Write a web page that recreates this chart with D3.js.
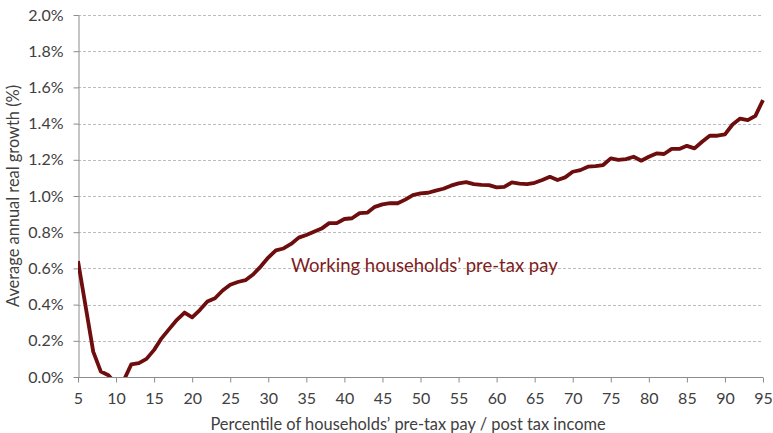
<!DOCTYPE html>
<meta charset="utf-8">
<style>
body { margin: 0; background: #fff; font-family: Lato, "Open Sans", sans-serif; }
.grid line { stroke: #bdbdbd; stroke-width: 1px; stroke-dasharray: 3,2; }
.axis path, .axis line { stroke: #8c8c8c; }
.axis text { font-size: 16px; fill: #404040; font-family: Lato, sans-serif; }
</style>
<body>
<script src="https://cdn.jsdelivr.net/npm/d3@7"></script>
<script>

var width = 773,
    height = 433,
    margin = {top: 15, right: 10, bottom: 56, left: 78};

// percentiles 5..95
var percentiles = d3.range(5, 96);
var growth = [
  0.64, 0.39, 0.14, 0.03, 0.01, -0.04, -0.02, 0.07, 0.077, 0.10,
  0.15, 0.215, 0.266, 0.316, 0.356, 0.33, 0.37, 0.417, 0.435, 0.478,
  0.51, 0.525, 0.535, 0.566, 0.61, 0.66, 0.70, 0.71, 0.735, 0.77,
  0.785, 0.803, 0.82, 0.85, 0.85, 0.873, 0.877, 0.905, 0.908, 0.94,
  0.954, 0.96, 0.96, 0.98, 1.005, 1.015, 1.018, 1.03, 1.04, 1.057,
  1.07, 1.077, 1.066, 1.062, 1.06, 1.048, 1.05, 1.075, 1.068, 1.066,
  1.073, 1.088, 1.106, 1.088, 1.103, 1.134, 1.143, 1.162, 1.165, 1.171,
  1.208, 1.199, 1.204, 1.217, 1.195, 1.217, 1.235, 1.232, 1.26, 1.26,
  1.277, 1.263, 1.30, 1.333, 1.333, 1.34, 1.395, 1.428, 1.419, 1.443,
  1.53
];
var xTicks = d3.range(5, 96, 5);
var yTicks = d3.range(0, 2.01, 0.2);
var seriesLabel = "Working households\u2019 pre-tax pay";

var svg = d3.select("body").append("svg")
    .attr("width", width)
    .attr("height", height);

var x = d3.scaleLinear().domain([5, 95]).range([margin.left, width - margin.right]);
var y = d3.scaleLinear().domain([0, 2]).range([height - margin.bottom, margin.top]);

svg.append("defs").append("clipPath").attr("id", "plot")
  .append("rect")
    .attr("x", margin.left)
    .attr("y", 0)
    .attr("width", width - margin.left)
    .attr("height", y(0));

svg.append("g").attr("class", "grid")
  .selectAll("line")
  .data(yTicks.slice(1))
  .enter().append("line")
    .attr("x1", margin.left)
    .attr("x2", width - margin.right)
    .attr("y1", function(d){ return Math.round(y(d)) + 0.5; })
    .attr("y2", function(d){ return Math.round(y(d)) + 0.5; });

svg.append("g").attr("class", "axis")
    .attr("transform", "translate(0," + (Math.round(y(0)) + 0.5) + ")")
    .call(d3.axisBottom(x).tickValues(xTicks).tickSize(5).tickPadding(10).tickSizeOuter(0))
    .call(function(g){ g.select(".domain").attr("d", "M" + margin.left + ",0H" + (width - margin.right)); });

svg.append("g").attr("class", "axis")
    .attr("transform", "translate(" + (margin.left + 0.5) + ",0)")
    .call(d3.axisLeft(y).tickValues(yTicks).tickSize(5).tickPadding(10).tickSizeOuter(0)
      .tickFormat(function(d){ return d.toFixed(1) + "%"; }));

var line = d3.line()
    .x(function(d, i){ return x(percentiles[i]); })
    .y(function(d){ return y(d); });

svg.append("path")
    .datum(growth)
    .attr("clip-path", "url(#plot)")
    .attr("fill", "none")
    .attr("stroke", "#6e0d0d")
    .attr("stroke-width", 3.8)
    .attr("stroke-linejoin", "round")
    .attr("d", line);

svg.append("text")
    .attr("x", 291)
    .attr("y", 272)
    .attr("fill", "#7d1c1c")
    .style("font-size", "18.5px")
    .text(seriesLabel);

svg.append("text")
    .attr("x", 408)
    .attr("y", 430)
    .attr("text-anchor", "middle")
    .attr("fill", "#404040")
    .style("font-size", "16.4px")
    .text("Percentile of households\u2019 pre-tax pay / post tax income");

svg.append("text")
    .attr("transform", "translate(19," + 196 + ") rotate(-90)")
    .attr("text-anchor", "middle")
    .attr("fill", "#404040")
    .style("font-size", "16.4px")
    .text("Average annual real growth (%)");

</script>
